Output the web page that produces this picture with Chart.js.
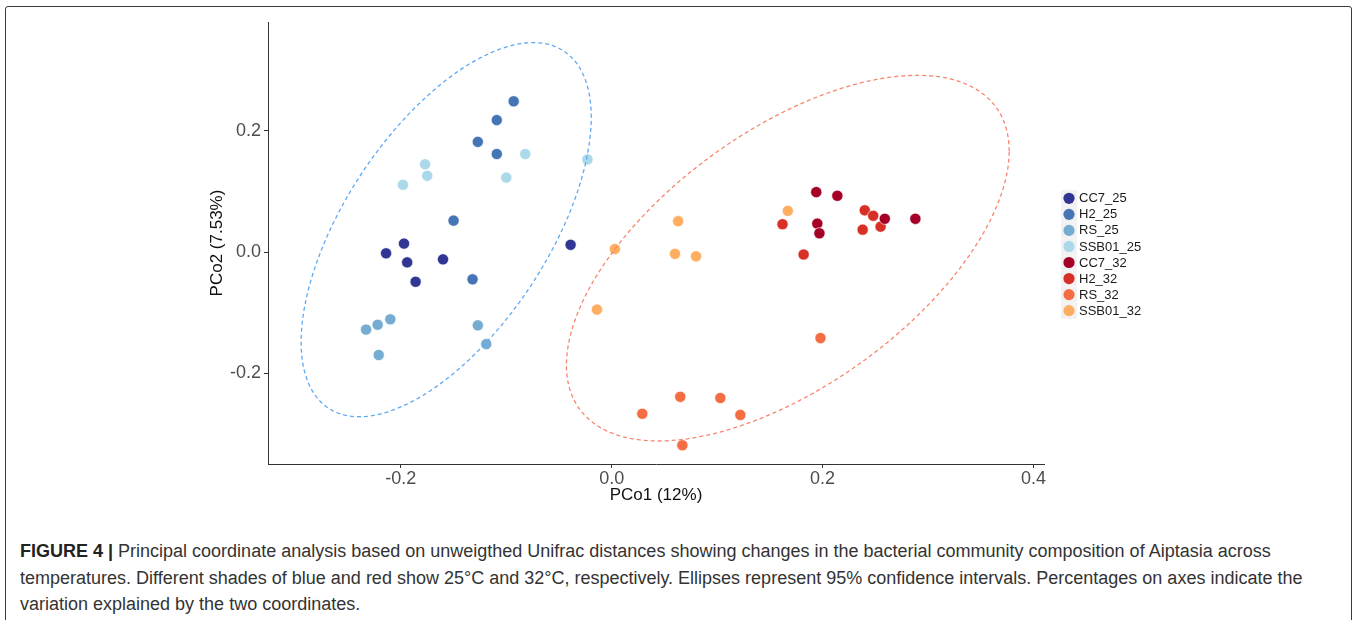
<!DOCTYPE html>
<html>
<head>
<meta charset="utf-8">
<script src="https://cdn.jsdelivr.net/npm/chart.js@4.4.1/dist/chart.umd.min.js"></script>
<style>
  html, body { margin: 0; padding: 0; background: #fff; }
  #wrap { position: relative; width: 1359px; height: 620px; overflow: hidden; }
  #frame { position: absolute; left: 5px; top: 6px; width: 1345px; height: 660px;
           border: 1.5px solid #3a3a3a; border-radius: 3px; }
  #chart { position: absolute; left: 0; top: 0; }
  #caption { position: absolute; left: 20px; top: 538px; white-space: nowrap;
             font-family: "Liberation Sans", Arial, sans-serif; font-size: 18px;
             line-height: 26.5px; color: #333; }
  #caption b { color: #222; }
</style>
</head>
<body>
<div id="wrap">
  <div id="frame"></div>
  <canvas id="chart" width="1359" height="520"></canvas>
  <div id="caption">
    <b>FIGURE 4 |</b> Principal coordinate analysis based on unweigthed Unifrac distances showing changes in the bacterial community composition of Aiptasia across<br>
    temperatures. Different shades of blue and red show 25°C and 32°C, respectively. Ellipses represent 95% confidence intervals. Percentages on axes indicate the<br>
    variation explained by the two coordinates.
  </div>
</div>
<script>
// group labels and colours (RdYlBu shades)
const groups = ["CC7_25", "H2_25", "RS_25", "SSB01_25", "CC7_32", "H2_32", "RS_32", "SSB01_32"];
const group_colors = ["#313695", "#4575b4", "#74add1", "#abd9e9", "#a50026", "#d73027", "#f46d43", "#fdae61"];

// PCo1 / PCo2 coordinates per group
const cc7_25_x = [-0.197, -0.214, -0.194, -0.160, -0.039, -0.186];
const cc7_25_y = [0.014, -0.002, -0.017, -0.012, 0.012, -0.049];
const h2_25_x = [-0.093, -0.109, -0.127, -0.109, -0.150, -0.132];
const h2_25_y = [0.249, 0.218, 0.182, 0.162, 0.052, -0.045];
const rs_25_x = [-0.233, -0.222, -0.210, -0.221, -0.127, -0.119];
const rs_25_y = [-0.128, -0.120, -0.111, -0.170, -0.121, -0.152];
const ssb01_25_x = [-0.177, -0.175, -0.198, -0.082, -0.100, -0.023];
const ssb01_25_y = [0.145, 0.126, 0.111, 0.162, 0.123, 0.153];
const cc7_32_x = [0.194, 0.214, 0.195, 0.197, 0.259, 0.288];
const cc7_32_y = [0.099, 0.093, 0.047, 0.031, 0.055, 0.055];
const h2_32_x = [0.162, 0.182, 0.240, 0.248, 0.238, 0.255];
const h2_32_y = [0.046, -0.004, 0.069, 0.060, 0.037, 0.042];
const rs_32_x = [0.065, 0.103, 0.029, 0.122, 0.067, 0.198];
const rs_32_y = [-0.239, -0.241, -0.267, -0.269, -0.319, -0.142];
const ssb01_32_x = [0.003, 0.063, 0.060, 0.080, -0.014, 0.167];
const ssb01_32_y = [0.005, 0.051, -0.003, -0.007, -0.095, 0.068];

// 95% ellipses: centre x, centre y, half range x, half range y, correlation
const ellipse_25 = [-0.157, 0.037, 0.1376, 0.309, 0.60];
const ellipse_32 = [0.167, -0.010, 0.210, 0.302, 0.585];
const ellipse_colors = ["#5ea9f4", "#f7866f"];

// axis ticks
const x_ticks = [-0.2, 0.0, 0.2, 0.4];
const y_ticks = [-0.2, 0.0, 0.2];

const xs = [cc7_25_x, h2_25_x, rs_25_x, ssb01_25_x, cc7_32_x, h2_32_x, rs_32_x, ssb01_32_x];
const ys = [cc7_25_y, h2_25_y, rs_25_y, ssb01_25_y, cc7_32_y, h2_32_y, rs_32_y, ssb01_32_y];

function dictionary_scatter(x, y) {
  return x.map((v, i) => ({ x: v, y: y[i] }));
}

function ellipse_path(e) {
  const [cx, cy, rx, ry, r] = e;
  const pts = [];
  for (let i = 0; i <= 120; i++) {
    const t = (i / 120) * 2 * Math.PI;
    pts.push({
      x: cx + rx * Math.cos(t),
      y: cy + ry * (r * Math.cos(t) + Math.sqrt(1 - r * r) * Math.sin(t)),
    });
  }
  return pts;
}

const point_sets = groups.map((g, i) => ({
  label: g,
  data: dictionary_scatter(xs[i], ys[i]),
  backgroundColor: group_colors[i],
  borderColor: "rgba(255,255,255,0.8)",
  borderWidth: 0.8,
  pointRadius: 5.6,
  pointHoverRadius: 5.6,
  order: 1,
}));

const ellipse_sets = [ellipse_25, ellipse_32].map((e, i) => ({
  label: "ellipse" + i,
  data: ellipse_path(e),
  showLine: true,
  borderColor: ellipse_colors[i],
  borderWidth: 1.3,
  borderDash: [4, 3],
  pointRadius: 0,
  fill: false,
  order: 0,
}));

// legend drawn by hand to mimic ggplot keys
const keyLegend = {
  id: "keyLegend",
  afterDraw(chart) {
    const ctx = chart.ctx;
    ctx.save();
    point_sets.forEach((ds, i) => {
      const y = 198.3 + i * 16.05;
      ctx.fillStyle = "#f2f2f2";
      ctx.fillRect(1061, y - 8, 16, 16);
      ctx.beginPath();
      ctx.arc(1069, y, 5.6, 0, 2 * Math.PI);
      ctx.fillStyle = ds.backgroundColor;
      ctx.fill();
      ctx.fillStyle = "#1a1a1a";
      ctx.font = "13px 'Liberation Sans', Arial, sans-serif";
      ctx.textBaseline = "middle";
      ctx.fillText(ds.label, 1079, y + 0.5);
    });
    ctx.restore();
  },
};

const tick_font = { family: "'Liberation Sans', Arial, sans-serif", size: 18 };
const title_font = { family: "'Liberation Sans', Arial, sans-serif", size: 17 };

const config = {
  type: "scatter",
  data: { datasets: point_sets.concat(ellipse_sets) },
  options: {
    responsive: false,
    animation: { duration: 0 },
    layout: { padding: { left: 205, top: 22, right: 315, bottom: 14 } },
    plugins: {
      legend: { display: false },
      tooltip: { enabled: false },
    },
    scales: {
      x: {
        type: "linear",
        min: -0.326,
        max: 0.41,
        afterBuildTicks: (s) => { s.ticks = x_ticks.map((v) => ({ value: v })); },
        afterFit: (s) => { s.height = 42; },
        ticks: { font: tick_font, color: "#4d4d4d", padding: 0, callback: (v) => v.toFixed(1) },
        grid: { display: true, drawOnChartArea: false, drawTicks: true, tickLength: 4, color: "#333" },
        border: { display: true, color: "#333", width: 1 },
        title: { display: true, text: "PCo1 (12%)", font: title_font, color: "#111", padding: { top: 0, bottom: 0 } },
      },
      y: {
        type: "linear",
        min: -0.35,
        max: 0.38,
        afterBuildTicks: (s) => { s.ticks = y_ticks.map((v) => ({ value: v })); },
        afterFit: (s) => { s.width = 63; },
        ticks: { font: tick_font, color: "#4d4d4d", padding: 3, callback: (v) => v.toFixed(1) },
        grid: { display: true, drawOnChartArea: false, drawTicks: true, tickLength: 4, color: "#333" },
        border: { display: true, color: "#333", width: 1 },
        title: { display: true, text: "PCo2 (7.53%)", font: title_font, color: "#111", padding: { top: 2, bottom: 0 } },
      },
    },
  },
  plugins: [keyLegend],
};

new Chart(document.getElementById("chart"), config);
</script>
</body>
</html>
